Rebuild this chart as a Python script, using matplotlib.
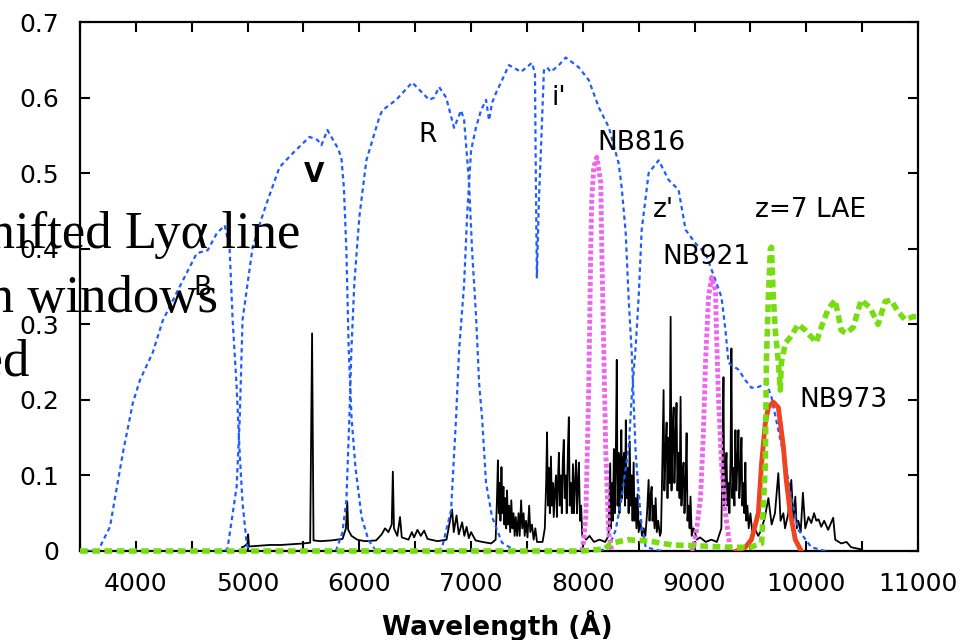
import matplotlib
matplotlib.use('Agg')
import matplotlib.pyplot as plt
from matplotlib.ticker import MultipleLocator

# broadband filters (blue dotted)
b_wl = [3500, 3661, 3768, 3884, 3973, 4036, 4152, 4241, 4393, 4545, 4643, 4723, 4795, 4839, 4866, 4902, 4929, 4955, 4991, 5010]
b_tr = [0, 0, .032, .13, .196, .226, .263, .305, .35, .394, .398, .42, .431, .40, .306, .217, .13, .063, .011, 0]

v_wl = [4800, 4821, 4902, 4929, 4955, 5045, 5125, 5170, 5286, 5402, 5554, 5625, 5661, 5714, 5804, 5839, 5862, 5884, 5905, 5930, 5965, 6020, 6080, 6150]
v_tr = [0, .004, .085, .173, .306, .402, .44, .46, .508, .526, .548, .544, .537, .557, .534, .521, .48, .398, .266, .177, .111, .045, .015, 0]

r_wl = [5790, 5848, 5884, 5911, 5929, 5955, 6000, 6063, 6179, 6205, 6330, 6473, 6625, 6670, 6714, 6777, 6848, 6911, 6938, 6982, 7009, 7045, 7072, 7098, 7134, 7188, 7277, 7400]
r_tr = [0, .024, .067, .177, .266, .354, .442, .517, .574, .583, .597, .62, .597, .60, .614, .60, .56, .583, .57, .487, .398, .31, .222, .177, .09, .045, .011, 0]

i_wl = [6700, 6741, 6821, 6866, 6893, 6938, 6964, 7000, 7045, 7089, 7134, 7161, 7188, 7223, 7277, 7339, 7447, 7545, 7572, 7580, 7589, 7607, 7625, 7652, 7679, 7714, 7786, 7848, 7964, 8054, 8143, 8232, 8321, 8348, 8384, 8411, 8438, 8473, 8500, 8527, 8563, 8705]
i_tr = [0, .005, .054, .177, .266, .354, .442, .53, .561, .583, .597, .57, .593, .606, .623, .643, .634, .646, .632, .487, .362, .464, .53, .636, .64, .634, .643, .653, .64, .623, .587, .561, .513, .481, .421, .332, .262, .13, .077, .032, .005, 0]

z_wl = [8150, 8232, 8295, 8348, 8411, 8438, 8473, 8500, 8527, 8563, 8589, 8679, 8768, 8857, 8920, 9009, 9098, 9188, 9241, 9277, 9304, 9393, 9455, 9509, 9571, 9643, 9688, 9750, 9813, 9866, 9929, 10045, 10170]
z_tr = [0, .005, .028, .071, .138, .204, .27, .336, .425, .468, .5, .517, .491, .478, .425, .407, .394, .358, .336, .292, .249, .24, .226, .216, .217, .222, .204, .16, .116, .071, .028, .005, 0]

# narrowband filters
nb816_wl = [7991, 8009, 8027, 8054, 8071, 8080, 8098, 8125, 8161, 8170, 8188, 8205, 8232, 8259]
nb816_tr = [0, .015, .045, .222, .398, .464, .508, .521, .487, .398, .266, .134, .024, 0]

nb921_wl = [8970, 8991, 9018, 9054, 9080, 9098, 9125, 9152, 9188, 9196, 9214, 9241, 9277, 9321]
nb921_tr = [0, .005, .028, .071, .16, .249, .336, .362, .345, .292, .204, .116, .05, 0]

nb973_wl = [9375, 9455, 9509, 9571, 9600, 9634, 9661, 9705, 9750, 9795, 9821, 9857, 9902, 9955]
nb973_tr = [0, .005, .015, .05, .116, .17, .19, .197, .19, .138, .094, .05, .015, 0]

# z=7 LAE model spectrum (green)
lae_wl = [3500, 8000, 8200, 8250, 8400, 8600, 8800, 9000, 9300, 9500, 9600, 9634, 9643, 9661, 9679, 9688, 9705, 9723, 9750, 9768, 9777, 9813, 9857, 9929, 9991, 10090, 10134, 10196, 10259, 10313, 10357, 10420, 10491, 10571, 10643, 10705, 10759, 10821, 10884, 10955, 10985]
lae_fl = [0, 0, .003, .01, .015, .013, .008, .007, .005, .005, .01, .116, .25, .336, .40, .402, .336, .292, .25, .213, .249, .275, .283, .30, .292, .276, .296, .32, .332, .292, .288, .296, .332, .322, .30, .33, .332, .317, .306, .31, .31]

# night sky spectrum (black)
sky_wl = [4950, 4970, 5000, 5005, 5012, 5100, 5200, 5300, 5400, 5500, 5560, 5577, 5590, 5650, 5750, 5850, 5880, 5892, 5900, 5930, 5980,
          6050, 6150, 6200, 6230, 6260, 6290, 6300, 6310, 6340, 6364, 6380, 6440, 6470, 6490, 6520, 6550, 6580, 6610, 6700, 6780,
          6830, 6845, 6870, 6890, 6920, 6940, 6960, 6980, 7000, 7040, 7100, 7180,
          7220, 7232, 7240, 7248, 7256, 7263, 7272, 7280, 7290, 7298, 7306, 7314, 7322, 7330, 7340, 7350, 7360, 7370, 7380, 7390,
          7400, 7412, 7425, 7435, 7448, 7458, 7470, 7480, 7492, 7505, 7520, 7530, 7545, 7560, 7575, 7590, 7610, 7640,
          7660, 7672, 7680, 7688, 7697, 7705, 7715, 7723, 7732, 7740, 7750, 7760, 7768, 7777, 7786, 7794, 7803, 7812, 7821, 7830,
          7838, 7847, 7856, 7866, 7875, 7883, 7893, 7902, 7912, 7921, 7930, 7940, 7948, 7957, 7965, 7975, 7985, 7995, 8010,
          8030, 8060, 8100, 8150, 8200,
          8230, 8245, 8252, 8262, 8270, 8278, 8286, 8295, 8304, 8311, 8320, 8328, 8337, 8345, 8352, 8361, 8370, 8378, 8385, 8393,
          8402, 8410, 8420, 8428, 8437, 8445, 8455, 8463, 8472, 8480, 8490, 8500, 8515, 8530, 8545, 8560, 8575, 8589, 8597, 8606,
          8616, 8624, 8633, 8642, 8652, 8662, 8675, 8690, 8700, 8710, 8723, 8730, 8740, 8750, 8758, 8767, 8777, 8786, 8794, 8804,
          8813, 8820, 8830, 8839, 8847, 8857, 8866, 8875, 8883, 8893, 8902, 8910, 8920, 8929, 8937, 8947, 8956, 8964, 8975, 8990,
          9000, 9020, 9050, 9100, 9150, 9200,
          9240, 9250, 9259, 9266, 9276, 9286, 9294, 9303, 9312, 9322, 9330, 9338, 9348, 9357, 9366, 9374, 9384, 9393, 9401, 9410,
          9420, 9428, 9437, 9446, 9455, 9463, 9473, 9485, 9500, 9520,
          9545, 9570, 9598, 9630, 9661, 9690, 9720, 9750, 9770, 9795, 9810, 9839, 9866, 9885, 9902,
          9915, 9929, 9950, 9970, 9991, 10020, 10045, 10070, 10090, 10110, 10134, 10160, 10196, 10241, 10259, 10313, 10360, 10402,
          10464, 10500]
sky_fl = [.005, .006, .010, .022, .006, .007, .008, .008, .009, .010, .011, .288, .014, .013, .014, .016, .030, .065, .028, .020, .015,
          .013, .014, .022, .030, .025, .035, .105, .030, .020, .045, .018, .015, .025, .018, .028, .020, .027, .016, .013, .015,
          .055, .025, .047, .022, .038, .020, .032, .017, .025, .014, .012, .010,
          .015, .070, .120, .050, .090, .040, .111, .050, .085, .035, .070, .030, .080, .035, .060, .025, .067, .030, .050, .020,
          .045, .020, .050, .020, .067, .030, .050, .020, .040, .018, .060, .025, .035, .015, .030, .012, .012, .012,
          .030, .090, .157, .060, .110, .050, .125, .060, .090, .045, .080, .100, .045, .090, .130, .060, .100, .050, .120, .147,
          .070, .100, .050, .130, .177, .060, .090, .050, .115, .050, .090, .120, .050, .090, .117, .040, .060, .020, .020,
          .015, .020, .012, .015, .012,
          .020, .116, .030, .090, .040, .135, .050, .120, .253, .060, .130, .050, .100, .160, .070, .120, .130, .060, .173, .070,
          .110, .050, .145, .060, .100, .040, .117, .040, .070, .030, .075, .025, .040, .020, .030, .020, .050, .094, .040, .070,
          .085, .040, .060, .030, .070, .025, .040, .020, .025, .100, .213, .080, .130, .170, .070, .150, .090, .310, .080, .160,
          .190, .090, .150, .196, .080, .130, .070, .204, .060, .100, .117, .050, .090, .156, .040, .060, .030, .072, .020, .030,
          .028, .015, .018, .012, .015, .012,
          .030, .120, .230, .060, .100, .130, .060, .090, .050, .120, .268, .070, .110, .060, .160, .080, .120, .160, .070, .100,
          .150, .060, .090, .050, .117, .040, .060, .030, .050, .020,
          .028, .020, .028, .045, .070, .035, .050, .103, .040, .050, .030, .050, .094, .040, .072,
          .030, .040, .025, .077, .030, .045, .037, .050, .040, .042, .032, .040, .028, .044, .015, .010, .012, .005,
          .003, .002]

ytick_vals = [0, 0.1, 0.2, 0.3, 0.4, 0.5, 0.6, 0.7]
ytick_labels = ['0', '0.1', '0.2', '0.3', '0.4', '0.5', '0.6', '0.7']

fig = plt.figure(figsize=(9.67, 6.4), dpi=100)
ax = fig.add_axes([80 / 967, 89 / 640, 838 / 967, 529 / 640])

blue = '#1f5cff'
ax.plot(sky_wl, sky_fl, color='black', lw=1.3, zorder=2)
for wl, tr in [(b_wl, b_tr), (v_wl, v_tr), (r_wl, r_tr), (i_wl, i_tr), (z_wl, z_tr)]:
    ax.plot(wl, tr, color=blue, lw=1.6, ls=(0, (2, 1.6)), zorder=3)
ax.plot(nb816_wl, nb816_tr, color='#ee66ee', lw=3.5, ls=(0, (0.8, 0.5)), zorder=4)
ax.plot(nb921_wl, nb921_tr, color='#ee66ee', lw=3.5, ls=(0, (0.8, 0.5)), zorder=4)
ax.plot(nb973_wl, nb973_tr, color='#ee4422', lw=3.5, zorder=5)
ax.plot(lae_wl, lae_fl, color='#77dd11', lw=4, ls=(0, (1.4, 0.8)), zorder=6, clip_on=False)

ax.set_xlim(3500, 11000)
ax.set_ylim(0, 0.7)
ax.xaxis.set_major_locator(MultipleLocator(1000))
ax.xaxis.set_minor_locator(MultipleLocator(500))
ax.set_yticks(ytick_vals)
ax.set_yticklabels(ytick_labels)
ax.tick_params(which='both', direction='in', length=7, width=1.5, top=True, right=True)
ax.tick_params(labelsize=18, pad=15)
for s in ax.spines.values():
    s.set_linewidth(1.6)

lab = dict(fontsize=19, ha='center', va='center', zorder=10, family='DejaVu Sans')
ax.text(4598, 0.348, 'B', **lab)
ax.text(5598, 0.497, 'V', fontweight='bold', **lab)
ax.text(6607, 0.55, 'R', **lab)
ax.text(7786, 0.60, "i'", **lab)
ax.text(8527, 0.54, 'NB816', **lab)
ax.text(8723, 0.451, "z'", **lab)
ax.text(9107, 0.389, 'NB921', **lab)
ax.text(10036, 0.451, 'z=7 LAE', **lab)
ax.text(10330, 0.20, 'NB973', **lab)

fig.text(497 / 967, 5 / 640, 'Wavelength (Å)', fontsize=19, fontweight='bold', ha='center', va='baseline')

# overlapping slide text, cut off at the left edge
serif = dict(fontsize=38, ha='right', va='baseline', family=['Liberation Serif', 'DejaVu Serif'], zorder=20)
fig.text(300 / 967, 1 - 248 / 640, 'Redshifted Lyα line', **serif)
fig.text(218 / 967, 1 - 312 / 640, 'in windows', **serif)
fig.text(30 / 967, 1 - 375 / 640, 'ted', **serif)

fig.savefig('out.png', dpi=100)
